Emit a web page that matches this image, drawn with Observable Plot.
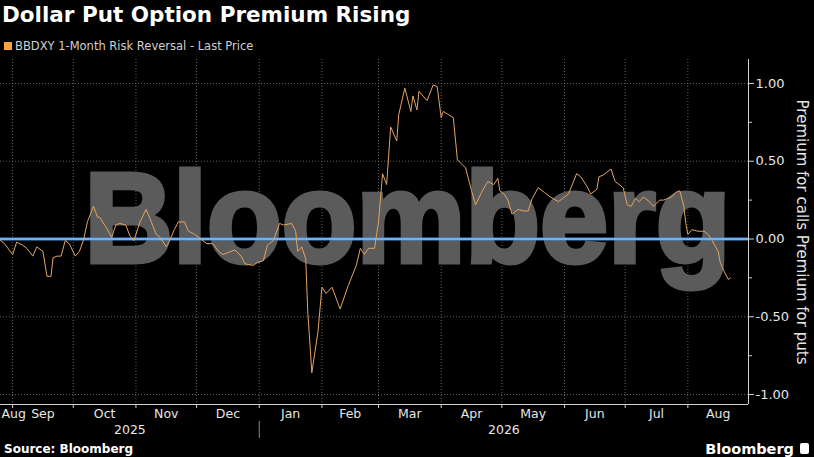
<!DOCTYPE html>
<html><head><meta charset="utf-8">
<script src="https://cdn.jsdelivr.net/npm/d3@7"></script>
<script src="https://cdn.jsdelivr.net/npm/@observablehq/plot@0.6"></script>
<style>
html,body{margin:0;padding:0;background:#000;width:814px;height:457px;overflow:hidden;font-family:"DejaVu Sans",sans-serif;color:#fff}
#title{height:36px;line-height:30px;font-weight:bold;font-size:21.5px;padding-left:2px;white-space:nowrap}
#legend{height:20px;font-size:11.5px;color:#d0d0d0;padding-left:4px;display:flex;align-items:center;white-space:nowrap}
#legend .sw{width:8px;height:8px;background:#f7a440;margin-right:3px}
#chart{height:384px}
#footer{display:flex;justify-content:space-between;align-items:center;height:17px;padding:0 5px 0 4px}
#src{font-weight:bold;font-size:12px}
#logo{font-weight:bold;font-size:14.5px;display:flex;align-items:center}
#logo .ic{display:inline-block;width:9px;height:11px;background:#fff;border-radius:2px;margin-left:6px}
</style></head><body>
<div id="title">Dollar Put Option Premium Rising</div>
<div id="legend"><span class="sw"></span><span>BBDXY 1-Month Risk Reversal - Last Price</span></div>
<div id="chart"></div>
<div id="footer"><span id="src">Source: Bloomberg</span><span id="logo">Bloomberg<span class="ic"></span></span></div>
<script>
const dates = [
"2025-08-26","2025-08-28","2025-09-01","2025-09-03","2025-09-06","2025-09-08","2025-09-11","2025-09-13","2025-09-16","2025-09-18",
"2025-09-20","2025-09-21","2025-09-23","2025-09-25","2025-09-27","2025-09-29","2025-10-02","2025-10-04","2025-10-06","2025-10-08",
"2025-10-11","2025-10-13","2025-10-14","2025-10-17","2025-10-20","2025-10-22","2025-10-24","2025-10-27","2025-10-29","2025-10-31",
"2025-11-02","2025-11-03","2025-11-06","2025-11-08","2025-11-11","2025-11-13","2025-11-16","2025-11-17","2025-11-20","2025-11-22",
"2025-11-25","2025-11-27","2025-11-30","2025-12-03","2025-12-06","2025-12-09","2025-12-12","2025-12-14","2025-12-18","2025-12-20",
"2025-12-23","2025-12-25","2025-12-29","2025-12-31","2026-01-03","2026-01-05","2026-01-08","2026-01-11","2026-01-13","2026-01-17",
"2026-01-19","2026-01-20","2026-01-22","2026-01-24","2026-01-25","2026-01-27","2026-01-30","2026-02-01","2026-02-03","2026-02-06",
"2026-02-10","2026-02-14","2026-02-18","2026-02-20","2026-02-22","2026-02-24","2026-02-27","2026-03-01","2026-03-03","2026-03-05",
"2026-03-07","2026-03-10","2026-03-11","2026-03-14","2026-03-17","2026-03-18","2026-03-20","2026-03-21","2026-03-25","2026-03-28",
"2026-03-30","2026-04-01","2026-04-02","2026-04-07","2026-04-09","2026-04-12","2026-04-13","2026-04-16","2026-04-18","2026-04-21",
"2026-04-24","2026-04-27","2026-04-29","2026-04-30","2026-05-02","2026-05-04","2026-05-06","2026-05-09","2026-05-12","2026-05-14",
"2026-05-16","2026-05-19","2026-05-22","2026-05-25","2026-05-29","2026-05-31","2026-06-03","2026-06-07","2026-06-09","2026-06-12",
"2026-06-14","2026-06-17","2026-06-18","2026-06-20","2026-06-24","2026-06-26","2026-06-30","2026-07-02","2026-07-04","2026-07-06",
"2026-07-08","2026-07-10","2026-07-13","2026-07-15","2026-07-18","2026-07-20","2026-07-24","2026-07-26","2026-07-28","2026-07-30",
"2026-07-31","2026-08-01","2026-08-03","2026-08-06","2026-08-09","2026-08-11","2026-08-13","2026-08-16","2026-08-17","2026-08-19",
"2026-08-21","2026-08-22"];
const values = [
-0.01,-0.03,-0.10,-0.02,-0.04,-0.06,-0.11,-0.05,-0.08,-0.24,
-0.24,-0.12,-0.11,-0.11,-0.01,-0.03,-0.11,-0.08,-0.01,0.11,
0.21,0.14,0.14,0.08,0.01,0.09,0.10,0.09,0.02,-0.01,
0.07,0.11,0.19,0.13,0.03,0.01,-0.05,-0.03,0.06,0.11,
0.11,0.05,0.03,0.00,-0.03,-0.03,-0.08,-0.10,-0.08,-0.07,
-0.11,-0.16,-0.17,-0.15,-0.14,-0.04,-0.01,0.10,0.09,0.10,
0.05,-0.08,-0.05,-0.13,-0.47,-0.86,-0.60,-0.31,-0.35,-0.31,
-0.45,-0.30,-0.17,-0.06,-0.10,-0.06,-0.06,0.11,0.42,0.35,
0.72,0.63,0.80,0.97,0.82,0.92,0.83,0.95,0.89,0.99,
0.98,0.78,0.82,0.78,0.51,0.47,0.46,0.31,0.22,0.30,
0.37,0.35,0.39,0.31,0.29,0.25,0.16,0.19,0.18,0.18,
0.26,0.33,0.30,0.27,0.24,0.26,0.29,0.42,0.40,0.34,
0.29,0.32,0.40,0.41,0.45,0.37,0.33,0.22,0.21,0.26,
0.24,0.27,0.24,0.21,0.25,0.25,0.27,0.30,0.31,0.21,
0.10,0.03,0.06,0.05,0.05,0.03,-0.01,-0.08,-0.15,-0.21,
-0.26,-0.25];
const yTicks = [-1, -0.5, 0, 0.5, 1];
const yMinorTicks = [-0.75, -0.25, 0.25, 0.75];
const monthLabels = ["Aug","Sep","Oct","Nov","Dec","Jan","Feb","Mar","Apr","May","Jun","Jul","Aug"];
const yearLabels = ["2025","2026"];
const xDomainStr = ["2025-08-26","2026-08-31"];
const yDomain = [-1.064, 1.154];
const axisTitle = "Premium for calls Premium for puts";

const data = dates.map((d, i) => ({date: new Date(d + "T00:00:00Z"), value: values[i]}));
const d0 = new Date(xDomainStr[0] + "T00:00:00Z"), d1 = new Date(xDomainStr[1] + "T00:00:00Z");
const monthStarts = d3.utcMonth.range(d3.utcMonth.ceil(d0), d1);
const allMonths = d3.utcMonth.range(d3.utcMonth.floor(d0), d1);
const DAY = 864e5;
const months = allMonths.map((m, i) => {
  const s = Math.max(+m, +d0), e = Math.min(+d3.utcMonth.offset(m, 1), +d1);
  return {label: monthLabels[i], mid: new Date((s + e) / 2), short: (e - s) < 10 * DAY};
});
const years = yearLabels.map(y => {
  const ys = new Date(y + "-01-01T00:00:00Z"), ye = new Date((+y + 1) + "-01-01T00:00:00Z");
  const s = Math.max(+ys, +d0), e = Math.min(+ye, +d1);
  return {label: y, mid: new Date((s + e) / 2)};
});
const yearStarts = d3.utcYear.range(d3.utcYear.ceil(d0), d1);

const chart = Plot.plot({
  width: 814, height: 384,
  marginLeft: 0, marginRight: 66, marginTop: 3, marginBottom: 36,
  x: {type: "utc", domain: [d0, d1], axis: null},
  y: {domain: yDomain, axis: null},
  style: {background: "#000", color: "#e0e0e0", fontFamily: "DejaVu Sans, sans-serif"},
  marks: [
    Plot.gridY(yTicks, {stroke: "#777", strokeOpacity: 0.8, strokeDasharray: "1,2"}),
    Plot.gridX(monthStarts, {stroke: "#777", strokeOpacity: 0.8, strokeDasharray: "1,2"}),
    Plot.text(["Bloomberg"], {frameAnchor: "middle", dx: 33, dy: -11, fontSize: 128, fontWeight: "bold",
      fontFamily: "Liberation Sans, Arial, sans-serif", fill: "#5b5b5b", stroke: "#5b5b5b", strokeWidth: 5,
      strokeLinejoin: "miter", className: "wmark"}),
    Plot.ruleY([0], {stroke: "#3f8fe0", strokeWidth: 3}),
    Plot.ruleY([0], {stroke: "#a9d3ff", strokeWidth: 1}),
    Plot.lineY(data, {x: "date", y: "value", stroke: "#e3a462", strokeWidth: 1}),
    Plot.ruleY([yDomain[0]], {stroke: "#cfcfcf", strokeWidth: 1}),
    Plot.ruleX([d1], {stroke: "#cfcfcf", strokeWidth: 1}),
    Plot.axisY(yTicks, {anchor: "right", label: null, tickSize: 5, tickPadding: 2, tickFormat: d => d.toFixed(2), fontSize: 13, stroke: "#cfcfcf", fill: "#e6e6e6"}),
    Plot.axisY(yMinorTicks, {anchor: "right", label: null, tickSize: 3, tickFormat: () => "", stroke: "#cfcfcf"}),
    Plot.axisX(monthStarts, {anchor: "bottom", label: null, tickSize: 4, tickFormat: () => "", stroke: "#cfcfcf"}),
    Plot.text(months.filter(d => !d.short), {x: "mid", text: "label", frameAnchor: "bottom", dy: 9, lineAnchor: "middle", fontSize: 12.5, fill: "#e6e6e6"}),
    Plot.text(months.filter(d => d.short), {x: () => d0, text: "label", frameAnchor: "bottom", dy: 9, dx: 1, textAnchor: "start", lineAnchor: "middle", fontSize: 12.5, fill: "#e6e6e6"}),
    Plot.text(years, {x: "mid", text: "label", frameAnchor: "bottom", dy: 25, lineAnchor: "middle", fontSize: 12.5, fill: "#e6e6e6"}),
    Plot.tickX(yearStarts, {x: d => d, stroke: "#888", className: "yearsep"}),
    Plot.text([axisTitle], {frameAnchor: "right", dx: 53, rotate: 90, textAnchor: "middle", fontSize: 15, fill: "#e6e6e6"})
  ]
});
// watermark glyph fit
d3.select(chart).selectAll('.wmark text, text.wmark').attr("textLength", 646).attr("lengthAdjust", "spacingAndGlyphs");
// year separator below the axis
d3.select(chart).selectAll('.yearsep line, line.yearsep').attr("y1", 365).attr("y2", 382);
document.getElementById("chart").appendChild(chart);
</script>
</body></html>
